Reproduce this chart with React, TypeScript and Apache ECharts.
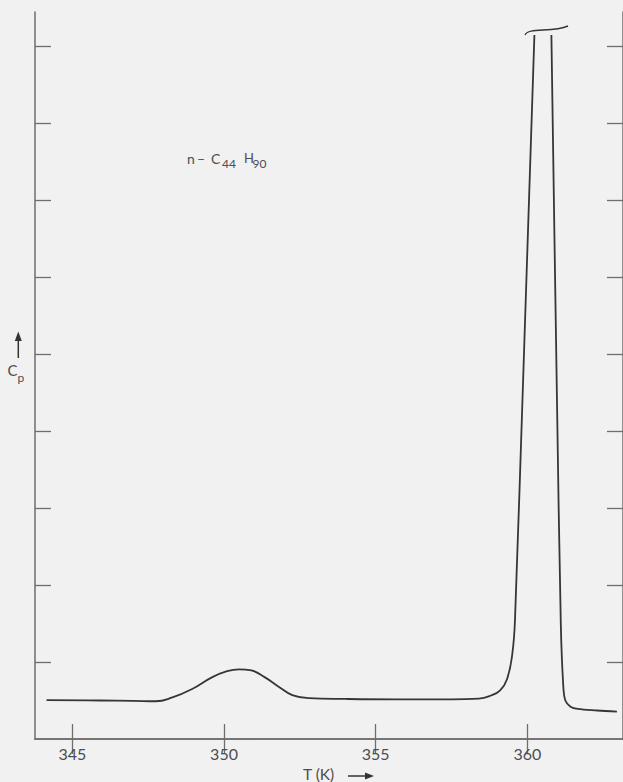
import { useEffect, useRef } from "react";
import * as echarts from "echarts";

// Temperature axis (K) and heat-capacity axis (arbitrary units, one unit per tick)
const tempTicks = [345, 350, 355, 360];
const cpTicks = [1, 2, 3, 4, 5, 6, 7, 8, 9];
const tempMin = 343.77;
const tempMax = 363.15;
const cpMin = 0;
const cpMax = 9.44;

// Baseline, pre-melting bump and rising flank of the melting peak
const riseT = [
  344.15, 345.9, 347.0, 347.75, 348.3, 348.95, 349.6, 350.1, 350.5, 350.9, 351.35,
  351.8, 352.25, 352.8, 354.0, 355.7, 357.5, 358.4, 358.8, 359.1, 359.33, 359.5,
  359.59, 360.23,
];
const riseCp = [
  0.506, 0.5, 0.495, 0.49, 0.54, 0.65, 0.8, 0.88, 0.905, 0.89, 0.8,
  0.68, 0.57, 0.53, 0.52, 0.515, 0.515, 0.525, 0.565, 0.63, 0.78, 1.1,
  1.55, 9.14,
];

// Falling flank of the peak and the liquid baseline
const fallT = [360.79, 360.97, 361.1, 361.18, 361.25, 361.42, 361.66, 362.3, 362.95];
const fallCp = [9.14, 4.5, 1.5, 0.7, 0.5, 0.42, 0.39, 0.37, 0.355];

const ink = "#363636";
const axisInk = "#6e6e6e";
const labelInk = "#4d4d4d";
const font = "Lato, 'Noto Sans', sans-serif";

const pairs = (xs: number[], ys: number[]) => xs.map((x, i) => [x, ys[i]]);

export default function App() {
  const ref = useRef<HTMLDivElement>(null);

  useEffect(() => {
    if (!ref.current) return;
    const chart = echarts.init(ref.current, undefined, { renderer: "svg" });

    const lineStyle = { color: ink, width: 1.8 };
    const axisLine = { show: true, lineStyle: { color: axisInk, width: 1.5 } };
    const tickStyle = { color: axisInk, width: 1.3 };

    const txt = (text: string, x: number, y: number, size: number) => ({
      type: "text",
      x,
      y,
      style: {
        text,
        fill: labelInk,
        font: `${size}px ${font}`,
        verticalAlign: "middle",
        align: "left",
      },
    });

    chart.setOption({
      animation: false,
      backgroundColor: "#f1f1f1",
      grid: { left: 35, right: -4, top: 12, bottom: 43, containLabel: false },
      xAxis: [
        {
          type: "value",
          position: "bottom",
          min: tempMin,
          max: tempMax,
          axisLine,
          splitLine: { show: false },
          axisTick: { show: true, inside: true, length: 15, lineStyle: tickStyle, customValues: tempTicks },
          axisLabel: {
            show: true,
            margin: 6,
            color: labelInk,
            fontSize: 16,
            fontFamily: font,
            customValues: tempTicks,
          },
        },
        {
          type: "value",
          position: "top",
          min: tempMin,
          max: tempMax,
          axisLine,
          splitLine: { show: false },
          axisTick: { show: true, inside: true, length: 15, lineStyle: tickStyle, customValues: tempTicks },
          axisLabel: { show: false },
        },
      ],
      yAxis: [
        {
          type: "value",
          position: "left",
          min: cpMin,
          max: cpMax,
          axisLine,
          splitLine: { show: false },
          axisTick: { show: true, inside: true, length: 16, lineStyle: tickStyle, customValues: cpTicks },
          axisLabel: { show: false },
        },
        {
          type: "value",
          position: "right",
          min: cpMin,
          max: cpMax,
          axisLine,
          splitLine: { show: false },
          axisTick: { show: true, inside: true, length: 16, lineStyle: tickStyle, customValues: cpTicks },
          axisLabel: { show: false },
        },
      ],
      series: [
        {
          type: "line",
          data: pairs(riseT, riseCp),
          showSymbol: false,
          smooth: 0.45,
          lineStyle,
        },
        {
          type: "line",
          data: pairs(fallT, fallCp),
          showSymbol: false,
          smooth: 0.35,
          lineStyle,
        },
      ],
      graphic: [
        // break mark above the clipped peak
        {
          type: "bezierCurve",
          shape: { x1: 525, y1: 35, cpx1: 528, cpy1: 27, cpx2: 552, cpy2: 33, x2: 568, y2: 26 },
          style: { stroke: ink, lineWidth: 1.4, fill: "none" },
        },
        // compound name
        txt("n", 187, 158, 14),
        txt("–", 197, 158, 14),
        txt("C", 211, 158, 14),
        txt("44", 222, 163, 12),
        txt("H", 244, 158, 13),
        txt("90", 252.5, 163, 12),
        // ordinate label with arrow
        {
          type: "line",
          shape: { x1: 18.3, y1: 358, x2: 18.3, y2: 338 },
          style: { stroke: "#333", lineWidth: 1.5 },
        },
        {
          type: "polygon",
          shape: { points: [[14.8, 341], [21.8, 341], [18.3, 331.5]] },
          style: { fill: "#333" },
        },
        txt("C", 7.5, 370, 15),
        txt("p", 17.5, 377, 12),
        // abscissa title with arrow
        txt("T (K)", 303, 774, 15.5),
        {
          type: "line",
          shape: { x1: 348, y1: 776, x2: 367, y2: 776 },
          style: { stroke: "#333", lineWidth: 1.5 },
        },
        {
          type: "polygon",
          shape: { points: [[365, 772.5], [365, 779.5], [374, 776]] },
          style: { fill: "#333" },
        },
      ],
    });

    return () => chart.dispose();
  }, []);

  return (
    <div
      ref={ref}
      style={{ position: "fixed", left: 0, top: 0, width: 623, height: 782, background: "#f1f1f1" }}
    />
  );
}
